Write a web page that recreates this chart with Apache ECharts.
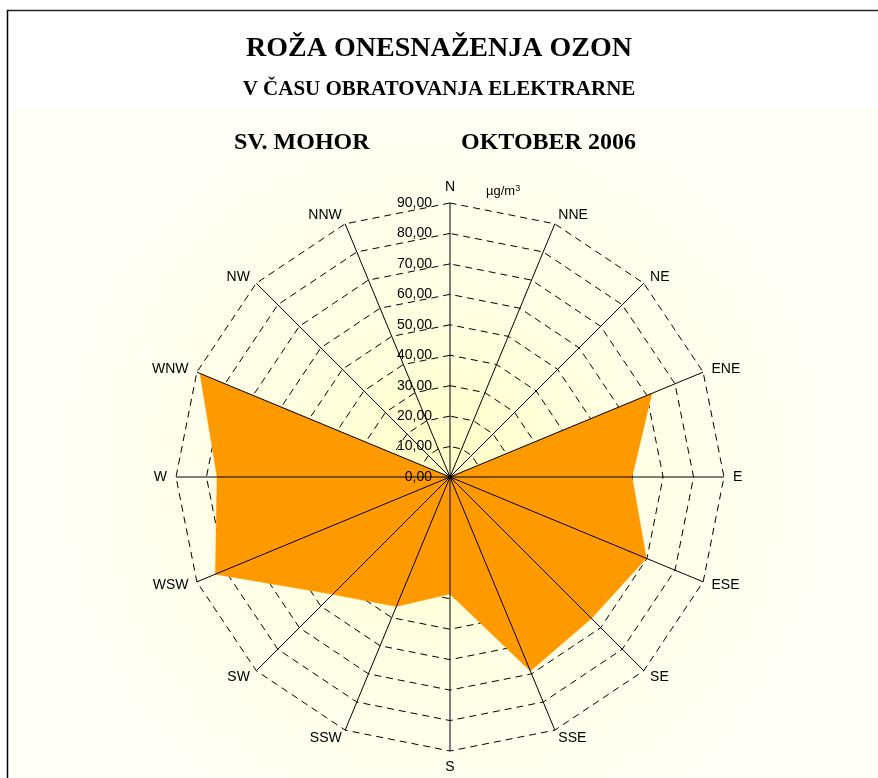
<!DOCTYPE html>
<html lang="sl">
<head>
    <meta charset="UTF-8">
    <title>Roža onesnaženja ozon</title>
    <script src="https://cdn.jsdelivr.net/npm/echarts@6/dist/echarts.min.js"></script>
    <style>
        html, body { margin: 0; padding: 0; background: #fff; }
        #main { width: 878px; height: 778px; }
    </style>
</head>
<body>

<div id="main"></div>

<script>
    // smeri vetra (v smeri urinega kazalca od N)
    const directions = ['N', 'NNE', 'NE', 'ENE', 'E', 'ESE', 'SE', 'SSE', 'S', 'SSW', 'SW', 'WSW', 'W', 'WNW', 'NW', 'NNW'];
    // povprečne koncentracije ozona (µg/m3)
    const ozone = [0, 0, 0, 71.8, 59.8, 69.8, 65.7, 69.0, 38.4, 46.0, 54.5, 83.4, 76.5, 88.9, 0, 0];
    const scaleMax = 90;
    const scaleStep = 10;

    const chart = echarts.init(document.getElementById('main'));

    // radar v ECharts riše indikatorje v nasprotni smeri urinega kazalca
    const order = [0].concat(directions.map((d, i) => i).slice(1).reverse());
    const indicators = order.map(i => ({ name: directions[i], min: 0, max: scaleMax }));
    const values = order.map(i => ozone[i]);

    const cx = 450, cy = 477, R = 274;

    const option = {
        backgroundColor: '#ffffff',
        title: [
            {
                text: 'ROŽA ONESNAŽENJA OZON',
                left: 'center', top: 30,
                textStyle: { fontFamily: 'Liberation Serif', fontWeight: 'bold', fontSize: 28, color: '#000' }
            },
            {
                text: 'V ČASU OBRATOVANJA ELEKTRARNE',
                left: 'center', top: 74,
                textStyle: { fontFamily: 'Liberation Serif', fontWeight: 'bold', fontSize: 21, color: '#000' }
            },
            {
                text: 'SV. MOHOR',
                left: 229, top: 126,
                textStyle: { fontFamily: 'Liberation Serif', fontWeight: 'bold', fontSize: 24, color: '#000' }
            },
            {
                text: 'OKTOBER 2006',
                left: 456, top: 126,
                textStyle: { fontFamily: 'Liberation Serif', fontWeight: 'bold', fontSize: 24, color: '#000' }
            }
        ],
        graphic: [
            {
                type: 'rect', z: -10, silent: true,
                shape: { x: 10, y: 110, width: 868, height: 668 },
                style: {
                    fill: new echarts.graphic.RadialGradient(0.5, 0.55, 0.6, [
                        { offset: 0, color: '#ffffc4' },
                        { offset: 0.45, color: '#ffffe4' },
                        { offset: 1, color: '#fffff8' }
                    ])
                }
            },
            {
                type: 'line', z: 10, silent: true,
                shape: { x1: 7, y1: 10.5, x2: 878, y2: 10.5 },
                style: { stroke: '#222', lineWidth: 1.5 }
            },
            {
                type: 'line', z: 10, silent: true,
                shape: { x1: 7.5, y1: 10, x2: 7.5, y2: 778 },
                style: { stroke: '#000', lineWidth: 1.5 }
            },
            {
                type: 'text', z: 10, left: 486, top: 184,
                style: {
                    text: '{b|µg/m}{s|3}',
                    rich: {
                        b: { fontFamily: 'Liberation Sans', fontSize: 13, fill: '#000' },
                        s: { fontFamily: 'Liberation Sans', fontSize: 9, fill: '#000', verticalAlign: 'top', padding: [0, 0, 6, 0] }
                    }
                }
            }
        ],
        radar: {
            center: [cx, cy],
            radius: R,
            startAngle: 90,
            shape: 'polygon',
            splitNumber: scaleMax / scaleStep,
            indicator: indicators,
            nameGap: 9,
            axisName: { color: '#000', fontFamily: 'Liberation Sans', fontSize: 14 },
            axisLine: { show: false },
            axisTick: { show: false },
            axisLabel: { show: false },
            splitLine: { lineStyle: { color: '#000', width: 1, type: [7, 5] } },
            splitArea: { show: false }
        },
        // polar only used for solid spokes above the area and the scale labels
        polar: { center: [cx, cy], radius: R },
        angleAxis: {
            type: 'value', min: 0, max: 360, interval: 22.5, startAngle: 90,
            axisLine: { show: false }, axisTick: { show: false }, axisLabel: { show: false },
            splitLine: { show: true, lineStyle: { color: '#000', width: 1 } },
            z: 5
        },
        radiusAxis: {
            type: 'value', min: 0, max: scaleMax, interval: scaleStep,
            axisLine: { show: false }, axisTick: { show: false }, splitLine: { show: false },
            axisLabel: {
                margin: 18,
                fontFamily: 'Liberation Sans', fontSize: 14, color: '#000',
                formatter: v => v.toFixed(2).replace('.', ',')
            },
            z: 5
        },
        series: [
            {
                type: 'radar',
                z: 2,
                symbol: 'none',
                lineStyle: { width: 0.5, color: '#ff9900' },
                areaStyle: { color: '#ff9900', opacity: 1 },
                data: [{ value: values, name: 'Ozon' }]
            }
        ]
    };

    chart.setOption(option);
</script>

</body>
</html>
